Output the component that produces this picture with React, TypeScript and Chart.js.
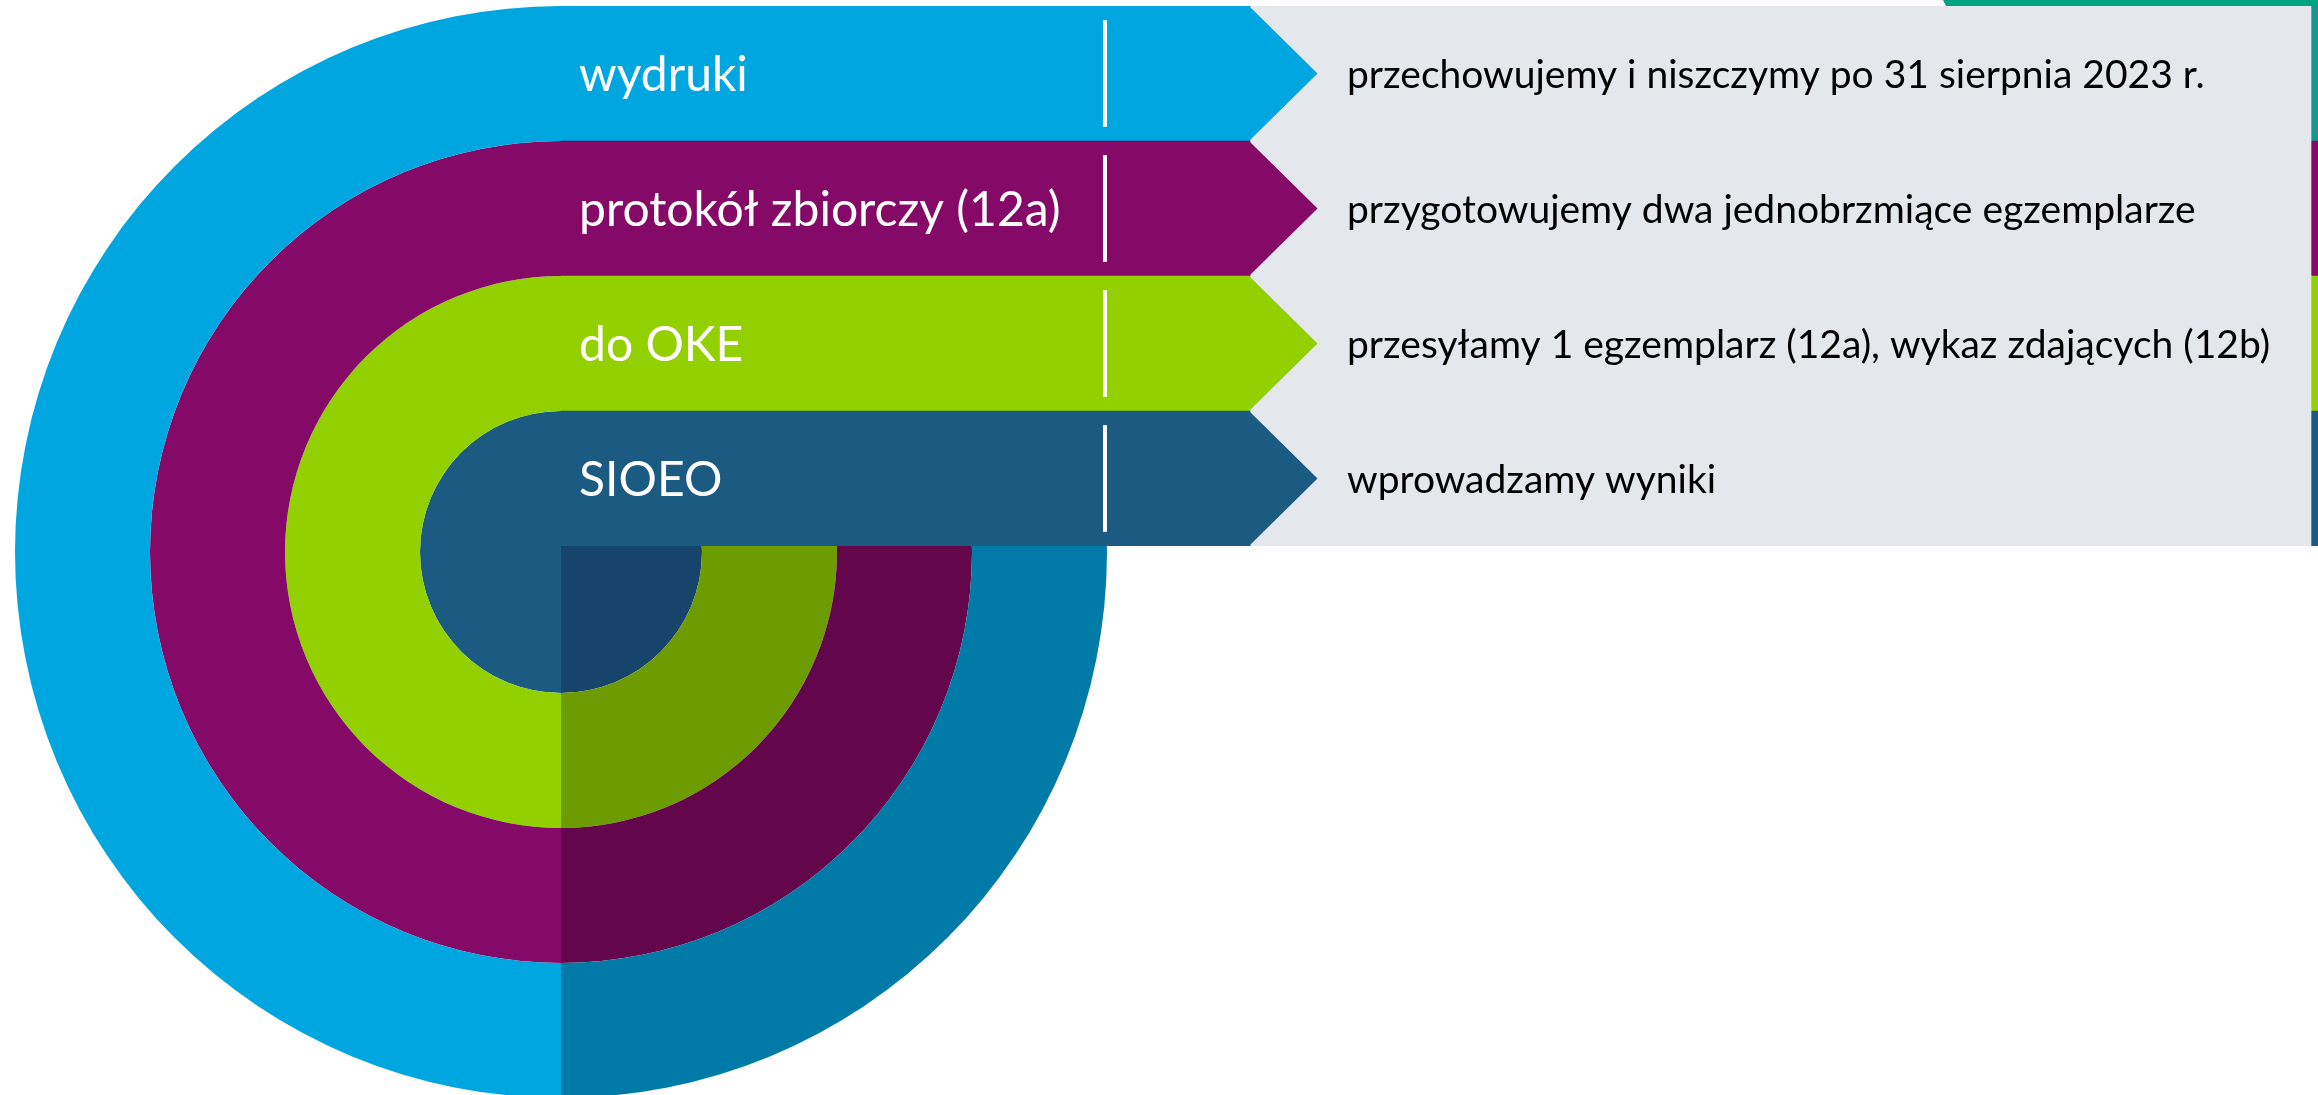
import { useEffect, useRef } from "react";
import { Chart, registerables } from "chart.js";

Chart.register(...registerables);

// ---- content ----
const categories = ["wydruki", "protokół zbiorczy (12a)", "do OKE", "SIOEO"];
const descriptions = [
  "przechowujemy i niszczymy po 31 sierpnia 2023 r.",
  "przygotowujemy dwa jednobrzmiące egzemplarze",
  "przesyłamy 1 egzemplarz (12a), wykaz zdających (12b)",
  "wprowadzamy wyniki",
];

// ---- colours ----
const mainColors = ["#00A6DF", "#850A68", "#92D000", "#1B5A81"];
const darkColors = ["#007BA7", "#63064C", "#6C9C00", "#16446A"];
const stripColors = ["#13978F", "#850A68", "#92D000", "#1B5A81"];
const boxColor = "#E4E7EC";
const ruleColor = "#00A382";

// ---- ring values (half-circles: right, left) and ring weights (outer -> inner) ----
const halfLabels = ["prawa połowa", "lewa połowa"];
const ringShares = [1, 1];
const ringWeights = [135, 135, 135, 141];

// ---- stage-scale segment extents (units along the horizontal scale) ----
const labelBand = [0, 689];
const noteBox = [689, 1750];
const edgeStrip = [1750, 1757];
const divider = [542, 546];
const labelOffset = 18;
const noteOffset = 786;
const topRule = [1382, 1757];

const overlayPlugin = {
  id: "overlay",
  afterDatasetsDraw(chart: any) {
    const ctx = chart.ctx as CanvasRenderingContext2D;
    const xs = chart.scales.x;
    const meta = chart.getDatasetMeta(1);
    ctx.save();
    meta.data.forEach((bar: any, i: number) => {
      const { y, height } = bar.getProps(["y", "height"], true);
      const bx = xs.getPixelForValue(labelBand[1]);
      ctx.fillStyle = mainColors[i];
      ctx.beginPath();
      ctx.moveTo(bx - 1, y - height / 2);
      ctx.lineTo(bx + height / 2, y);
      ctx.lineTo(bx - 1, y + height / 2);
      ctx.closePath();
      ctx.fill();

      ctx.textAlign = "left";
      ctx.textBaseline = "middle";
      ctx.fillStyle = "#ffffff";
      ctx.font = "48px Lato";
      ctx.fillText(categories[i], xs.getPixelForValue(labelOffset), y + 2);
      ctx.fillStyle = "#000000";
      ctx.font = "39px Lato";
      ctx.fillText(descriptions[i], xs.getPixelForValue(noteOffset), y + 2);
    });
    const x0 = xs.getPixelForValue(topRule[0]);
    const x1 = xs.getPixelForValue(topRule[1]);
    ctx.fillStyle = ruleColor;
    ctx.beginPath();
    ctx.moveTo(x0, 0);
    ctx.lineTo(x1, 0);
    ctx.lineTo(x1, chart.chartArea.top);
    ctx.lineTo(x0 + 3, chart.chartArea.top);
    ctx.closePath();
    ctx.fill();
    ctx.restore();
  },
};

export default function App() {
  const ringRef = useRef<HTMLCanvasElement>(null);
  const barRef = useRef<HTMLCanvasElement>(null);

  useEffect(() => {
    const ring = new Chart(ringRef.current!, {
      type: "doughnut",
      data: {
        labels: halfLabels,
        datasets: categories.map((c, i) => ({
          label: c,
          data: ringShares,
          backgroundColor: [darkColors[i], mainColors[i]],
          borderWidth: 0,
          weight: ringWeights[i],
        })) as any,
      },
      options: {
        responsive: false,
        animation: false,
        events: [],
        cutout: 0,
        rotation: 0,
        layout: { padding: 0 },
        plugins: { legend: { display: false }, tooltip: { enabled: false } },
      } as any,
    });

    const common = {
      borderWidth: 0,
      grouped: false,
      categoryPercentage: 1,
    };
    const bars = new Chart(barRef.current!, {
      type: "bar",
      data: {
        labels: categories,
        datasets: [
          {
            ...common,
            label: "separator",
            data: categories.map(() => divider),
            backgroundColor: "#ffffff",
            barPercentage: 0.79,
          },
          {
            ...common,
            label: "etykieta",
            data: categories.map(() => labelBand),
            backgroundColor: mainColors,
            barPercentage: 1,
          },
          {
            ...common,
            label: "opis",
            data: categories.map(() => noteBox),
            backgroundColor: boxColor,
            barPercentage: 1,
          },
          {
            ...common,
            label: "pasek",
            data: categories.map(() => edgeStrip),
            backgroundColor: stripColors,
            barPercentage: 1,
          },
        ] as any,
      },
      options: {
        indexAxis: "y",
        responsive: false,
        animation: false,
        events: [],
        layout: { padding: { top: 6, left: 0, right: 0, bottom: 0 } },
        scales: {
          x: { type: "linear", min: 0, max: edgeStrip[1], display: false },
          y: { type: "category", display: false, offset: true },
        },
        plugins: { legend: { display: false }, tooltip: { enabled: false } },
      } as any,
      plugins: [overlayPlugin],
    });

    return () => {
      ring.destroy();
      bars.destroy();
    };
  }, []);

  return (
    <div
      style={{
        position: "absolute",
        left: 0,
        top: 0,
        width: 2318,
        height: 1095,
        overflow: "hidden",
        background: "#ffffff",
      }}
    >
      <canvas
        ref={ringRef}
        width={1092}
        height={1092}
        style={{ position: "absolute", left: 15, top: 6, width: 1092, height: 1092 }}
      />
      <canvas
        ref={barRef}
        width={1757}
        height={546}
        style={{ position: "absolute", left: 561, top: 0, width: 1757, height: 546 }}
      />
    </div>
  );
}
